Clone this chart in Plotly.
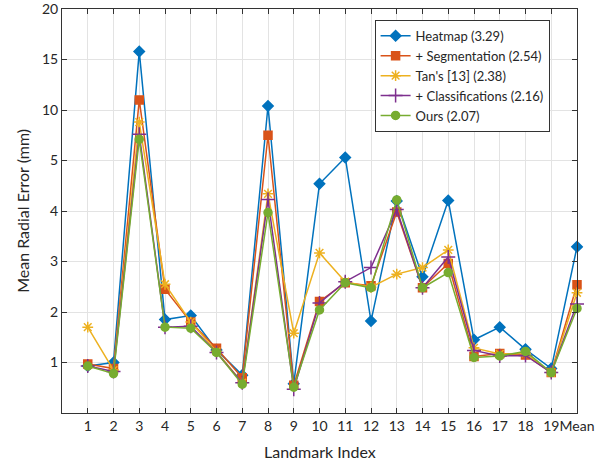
import plotly.graph_objects as go

categories = [str(i) for i in range(1, 20)] + ["Mean"]

heatmap = [0.93, 1.00, 15.8, 1.85, 1.93, 1.25, 0.75, 10.4, 0.58, 4.54, 5.3, 1.82, 4.20, 2.70, 4.21, 1.45, 1.70, 1.26, 0.88, 3.29]
segmentation = [0.97, 0.88, 11.0, 2.45, 1.80, 1.28, 0.70, 7.5, 0.55, 2.21, 2.58, 2.52, 3.98, 2.48, 2.96, 1.12, 1.18, 1.15, 0.80, 2.54]
tans = [1.70, 0.85, 8.8, 2.55, 1.80, 1.22, 0.60, 4.34, 1.58, 3.17, 2.60, 2.49, 2.75, 2.88, 3.23, 1.29, 1.17, 1.18, 0.80, 2.38]
classifications = [0.93, 0.82, 7.6, 1.70, 1.72, 1.20, 0.60, 4.23, 0.47, 2.18, 2.60, 2.88, 4.03, 2.48, 3.09, 1.24, 1.13, 1.14, 0.80, 2.16]
ours = [0.93, 0.78, 7.1, 1.70, 1.68, 1.20, 0.57, 3.97, 0.51, 2.04, 2.58, 2.48, 4.22, 2.48, 2.78, 1.10, 1.13, 1.22, 0.80, 2.07]

series_names = ["Heatmap (3.29)", "+ Segmentation (2.54)", "Tan's [13] (2.38)", "+ Classifications (2.16)", "Ours (2.07)"]
ytick_labels = ["1", "2", "3", "4", "5", "10", "15", "20"]
ytick_values = [1, 2, 3, 4, 5, 10, 15, 20]


def yscale(v):
    # piecewise axis: linear up to 5, then 5 units per grid step
    return v if v <= 5 else 5 + (v - 5) / 5.0


colors = ["#0072BD", "#D95319", "#EDB120", "#7E2F8E", "#77AC30"]
symbols = ["diamond", "square", "asterisk-open", "cross-thin-open", "circle"]
sizes = [8, 8, 9, 10, 8]
all_series = [heatmap, segmentation, tans, classifications, ours]

x = list(range(1, 21))
fig = go.Figure()
for name, vals, c, s, sz in zip(series_names, all_series, colors, symbols, sizes):
    fig.add_trace(go.Scatter(
        x=x, y=[yscale(v) for v in vals], mode="lines+markers", name=name,
        line=dict(color=c, width=1.5),
        marker=dict(symbol=s, size=sz, color=c, line=dict(color=c, width=1.5)),
        cliponaxis=False,
        customdata=vals, hovertemplate="%{customdata}<extra></extra>",
    ))

font_family = "Lato, Open Sans, sans-serif"
fig.update_layout(
    width=609, height=461,
    margin=dict(l=62, r=32, t=9, b=48),
    plot_bgcolor="white", paper_bgcolor="white",
    font=dict(family=font_family, size=14, color="#262626"),
    showlegend=True,
    legend=dict(
        x=0.607, y=0.973, xanchor="left", yanchor="top",
        bgcolor="white", bordercolor="#333333", borderwidth=1,
        font=dict(size=13, color="#262626"),
        tracegroupgap=0, itemwidth=30,
    ),
    xaxis=dict(
        range=[0, 20], tickmode="array", tickvals=x, ticktext=categories,
        tickangle=0, automargin=False,
        showgrid=True, gridcolor="#E3E3E3", gridwidth=1,
        showline=True, linecolor="#333333", linewidth=1, mirror="ticks",
        ticks="inside", ticklen=5, tickcolor="#333333",
        zeroline=False,
    ),
    yaxis=dict(
        range=[0, 8.0001], tickmode="array",
        tickvals=[yscale(v) for v in ytick_values], ticktext=ytick_labels,
        automargin=False, ticklabeloverflow="allow",
        showgrid=True, gridcolor="#E3E3E3", gridwidth=1,
        showline=True, linecolor="#333333", linewidth=1, mirror="ticks",
        ticks="inside", ticklen=5, tickcolor="#333333",
        zeroline=False,
    ),
    annotations=[
        dict(text="Landmark Index", xref="paper", yref="paper", x=0.5, y=-0.095,
             xanchor="center", yanchor="middle", showarrow=False,
             font=dict(size=16, color="#262626")),
        dict(text="Mean Radial Error (mm)", xref="paper", yref="paper", x=-0.078, y=0.5,
             xanchor="center", yanchor="middle", showarrow=False, textangle=-90,
             font=dict(size=16, color="#262626")),
    ],
)

fig.write_html(
    "out.html",
    config={"displayModeBar": False},
    post_script="document.body.style.margin='0';document.body.style.overflow='hidden';",
)
